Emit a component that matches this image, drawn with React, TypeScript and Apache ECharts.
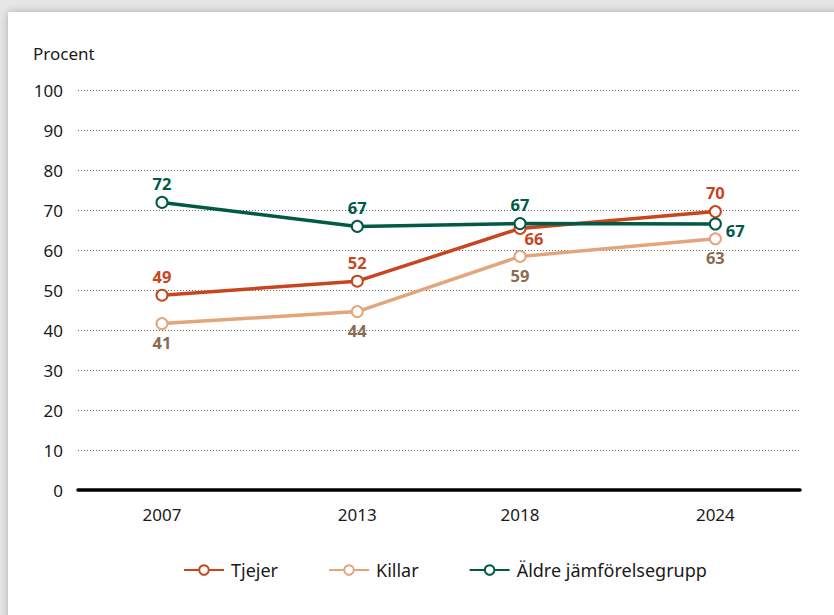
import React, { useEffect, useRef } from "react";
import * as echarts from "echarts";

const years = [2007, 2013, 2018, 2024];
const yTicks = [0, 10, 20, 30, 40, 50, 60, 70, 80, 90, 100];
const tjejer = [48.7, 52.2, 65.4, 69.6];
const tjejerLabels = [49, 52, 66, 70];
const killar = [41.6, 44.6, 58.4, 62.8];
const killarLabels = [41, 44, 59, 63];
const aldre = [71.9, 65.9, 66.6, 66.5];
const aldreLabels = [72, 67, 67, 67];
const seriesNames = ["Tjejer", "Killar", "Äldre jämförelsegrupp"];

const FONT = "'Noto Sans', 'Open Sans', sans-serif";

export default function App() {
  const ref = useRef<HTMLDivElement>(null);
  useEffect(() => {
    if (!ref.current) return;
    const chart = echarts.init(ref.current, undefined, { renderer: "svg" });
    const mk = (
      name: string,
      vals: number[],
      labels: number[],
      color: string,
      labelColor: string,
      pos: string,
      special: Record<number, any>
    ) => ({
      name,
      type: "line",
      data: vals.map((v, i) => {
        const d: any = { value: [years[i], v] };
        if (special[i]) d.label = special[i];
        return d;
      }),
      symbol: "emptyCircle",
      symbolSize: 11,
      lineStyle: { width: 3.5, color },
      itemStyle: { color, borderColor: color, borderWidth: 2.5 },
      label: {
        show: true,
        position: pos,
        distance: 4,
        color: labelColor,
        fontFamily: FONT,
        fontWeight: "bold",
        fontSize: 16.5,
        formatter: (p: any) => String(labels[p.dataIndex]),
      },
    });
    chart.setOption({
      animation: false,
      textStyle: { fontFamily: FONT },
      title: {
        text: "Procent",
        left: 28,
        top: 40,
        textStyle: { fontFamily: FONT, fontSize: 17, fontWeight: "normal", color: "#1a1a1a" },
      },
      grid: { left: 78, right: 34, top: 90, bottom: 125 },
      legend: {
        bottom: 31,
        left: 178,
        itemGap: 50,
        itemWidth: 40,
        itemHeight: 12,
        data: seriesNames,
        textStyle: { fontFamily: FONT, fontSize: 18, color: "#1a1a1a", padding: [0, 0, 0, 2] },
      },
      xAxis: {
        type: "value",
        min: 2004.42,
        max: 2026.6,
        splitLine: { show: false },
        axisTick: { show: false },
        axisLine: { show: true, onZero: false, lineStyle: { color: "#000", width: 3.5 } },
        axisLabel: {
          customValues: years,
          color: "#1a1a1a",
          fontSize: 17,
          fontFamily: FONT,
          margin: 16,
          formatter: (v: number) => String(v),
        },
      },
      yAxis: {
        type: "value",
        min: 0,
        max: 100,
        interval: 10,
        axisLine: { show: false },
        axisTick: { show: false },
        axisLabel: {
          customValues: yTicks,
          color: "#1a1a1a",
          fontSize: 17,
          fontFamily: FONT,
          margin: 15,
        },
        splitLine: { show: true, lineStyle: { color: "#666", type: [1, 2], width: 1 } },
      },
      series: [
        mk(seriesNames[0], tjejer, tjejerLabels, "#C8461F", "#C8461F", "top", {
          2: { position: "bottom", offset: [14, -9] },
        }),
        mk(seriesNames[1], killar, killarLabels, "#E3A57C", "#8A6C52", "bottom", {}),
        mk(seriesNames[2], aldre, aldreLabels, "#005A44", "#005A44", "top", {
          3: { position: "right", offset: [0, 6] },
        }),
      ],
    });
    return () => chart.dispose();
  }, []);
  return (
    <div style={{ position: "fixed", left: 0, top: 0, width: 834, height: 615, background: "#e6e6e6", overflow: "hidden" }}>
      <div
        style={{
          position: "absolute",
          left: 8,
          top: 12,
          width: 840,
          height: 620,
          background: "#fff",
          boxShadow: "0 0 8px rgba(0,0,0,0.25)",
        }}
      />
      <div ref={ref} style={{ position: "absolute", left: 0, top: 0, width: 834, height: 615 }} />
    </div>
  );
}
